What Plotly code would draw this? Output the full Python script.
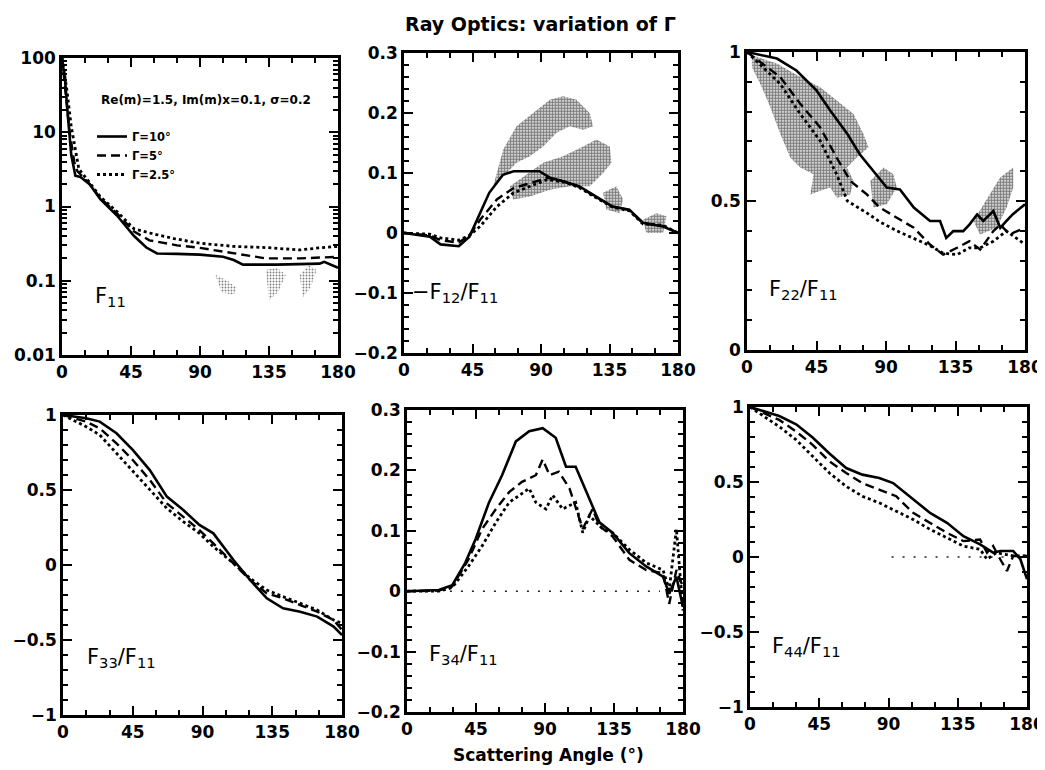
import plotly.graph_objects as go

# ---------------- data ----------------
# Panel 1: F11 (log scale)
f11_sol_x = [0, 2, 4, 6, 8.7, 12, 18, 25, 36, 47, 55, 62, 75, 90, 105, 112, 118, 140, 168, 171, 180]
f11_sol_y = [100, 50, 15, 5, 2.6, 2.5, 2.0, 1.26, 0.75, 0.40, 0.28, 0.233, 0.23, 0.225, 0.21, 0.19, 0.165, 0.165, 0.17, 0.18, 0.15]
f11_dsh_x = [0, 2, 5, 8, 10, 18, 25, 36, 47, 57, 75, 90, 112, 133, 155, 180]
f11_dsh_y = [100, 40, 10, 4, 3.0, 2.0, 1.3, 0.8, 0.46, 0.35, 0.30, 0.277, 0.237, 0.20, 0.20, 0.21]
f11_dot_x = [0, 3, 6, 9, 11, 18, 25, 36, 47, 57, 73, 90, 112, 133, 155, 170, 180]
f11_dot_y = [100, 40, 12, 5, 3.2, 2.1, 1.35, 0.85, 0.50, 0.44, 0.37, 0.32, 0.29, 0.28, 0.26, 0.28, 0.29]

# Panel 2: -F12/F11
f12_sol_x = [0, 17, 24, 36, 43, 50, 56, 65, 72, 89, 96, 105, 115, 126, 137, 148, 157, 170, 180]
f12_sol_y = [0, -0.006, -0.019, -0.022, -0.006, 0.033, 0.067, 0.097, 0.103, 0.103, 0.092, 0.086, 0.078, 0.061, 0.044, 0.039, 0.017, 0.011, 0.0]
f12_dsh_x = [0, 17, 24, 36, 43, 50, 61, 72, 83, 94, 105, 115, 126, 137, 148, 157, 170, 180]
f12_dsh_y = [0, -0.004, -0.012, -0.016, -0.004, 0.022, 0.056, 0.075, 0.083, 0.092, 0.086, 0.077, 0.060, 0.044, 0.038, 0.016, 0.012, 0.0]
f12_dot_x = [0, 17, 24, 36, 43, 50, 61, 72, 83, 94, 105, 115, 126, 137, 148, 157, 170, 180]
f12_dot_y = [0, -0.002, -0.008, -0.012, -0.004, 0.011, 0.044, 0.067, 0.078, 0.089, 0.085, 0.076, 0.059, 0.043, 0.037, 0.015, 0.013, 0.0]

# Panel 3: F22/F11
f22_sol_x = [0, 19.4, 32, 45, 54, 65, 73, 82, 90.5, 99, 108, 118.5, 125, 129, 133.6, 140, 144, 149, 153, 159.5, 164, 168, 172, 180]
f22_sol_y = [1, 0.978, 0.938, 0.871, 0.803, 0.725, 0.657, 0.601, 0.545, 0.539, 0.478, 0.433, 0.433, 0.376, 0.399, 0.399, 0.421, 0.455, 0.433, 0.466, 0.41, 0.433, 0.455, 0.489]
f22_dsh_x = [0, 21.5, 34.5, 47.4, 58, 67, 77.6, 86, 97, 108, 118.5, 127, 136, 144, 151, 159.5, 164, 170, 180]
f22_dsh_y = [1, 0.916, 0.826, 0.747, 0.646, 0.567, 0.522, 0.478, 0.444, 0.41, 0.354, 0.32, 0.343, 0.365, 0.337, 0.399, 0.421, 0.388, 0.41]
f22_dot_x = [0, 21.5, 34.5, 47.4, 58, 65, 77.6, 86, 97, 108, 118.5, 127, 136, 144, 151, 159.5, 168, 180]
f22_dot_y = [1, 0.893, 0.792, 0.702, 0.59, 0.50, 0.46, 0.43, 0.400, 0.375, 0.350, 0.325, 0.32, 0.343, 0.343, 0.365, 0.399, 0.354]

# Panel 4: F33/F11
f33_x = [0, 15, 23.7, 34.5, 45, 56, 67, 77.6, 88, 97, 110, 120.7, 131.5, 142, 153, 164, 174.6, 180]
f33_sol_y = [1, 0.978, 0.956, 0.878, 0.767, 0.633, 0.456, 0.367, 0.267, 0.211, 0.033, -0.1, -0.222, -0.289, -0.311, -0.344, -0.411, -0.467]
f33_dsh_y = [1, 0.956, 0.911, 0.811, 0.70, 0.567, 0.411, 0.322, 0.233, 0.144, 0.011, -0.1, -0.189, -0.222, -0.267, -0.311, -0.367, -0.433]
f33_dot_y = [1, 0.922, 0.867, 0.744, 0.622, 0.50, 0.378, 0.289, 0.211, 0.122, 0.011, -0.089, -0.167, -0.211, -0.256, -0.30, -0.367, -0.389]

# Panel 5: F34/F11
f34_sol_x = [0, 20.7, 29.5, 38, 44.7, 53.5, 62, 71, 79.7, 88.5, 97, 103.7, 110, 121, 125.5, 134, 145, 156, 167, 171, 175.7, 180]
f34_sol_y = [0, 0.002, 0.01, 0.047, 0.086, 0.147, 0.192, 0.248, 0.265, 0.27, 0.254, 0.206, 0.206, 0.142, 0.114, 0.097, 0.063, 0.041, 0.024, -0.004, 0.024, -0.026]
f34_dsh_x = [0, 20.7, 29.5, 40, 49, 58, 66.6, 75, 84, 88.5, 93, 99, 106, 114.6, 121, 125.5, 134, 145, 156, 167, 171, 175.7, 180]
f34_dsh_y = [0, 0.001, 0.008, 0.052, 0.103, 0.136, 0.164, 0.181, 0.192, 0.218, 0.192, 0.198, 0.17, 0.103, 0.136, 0.108, 0.091, 0.052, 0.035, 0.03, -0.021, 0.035, 0.007]
f34_dot_x = [0, 20.7, 29.5, 40, 49, 58, 66.6, 79.7, 84, 90.6, 95, 101.5, 110, 114.6, 119, 127.7, 134, 145, 156, 167, 171, 175.7, 178, 180]
f34_dot_y = [0, 0.0, 0.006, 0.041, 0.075, 0.114, 0.147, 0.17, 0.147, 0.136, 0.159, 0.136, 0.147, 0.097, 0.125, 0.103, 0.097, 0.069, 0.047, 0.035, 0.002, 0.103, 0.03, -0.032]
f34_zero_x = [28, 165]
f34_zero_y = [0, 0]

# Panel 6: F44/F11
f44_sol_x = [0, 19, 30, 40.7, 51.6, 62.5, 73, 84, 93, 106, 117, 128, 138.7, 149.5, 158, 162.6, 171, 175.7, 180]
f44_sol_y = [1, 0.94, 0.885, 0.796, 0.69, 0.593, 0.549, 0.527, 0.493, 0.383, 0.294, 0.228, 0.139, 0.084, 0.029, 0.04, 0.04, -0.015, -0.148]
f44_dsh_x = [0, 19, 30, 40.7, 51.6, 62.5, 73, 84, 95, 106, 117, 128, 138.7, 149.5, 154, 158, 162.6, 167, 171, 180]
f44_dsh_y = [1, 0.914, 0.836, 0.748, 0.637, 0.56, 0.493, 0.449, 0.405, 0.294, 0.228, 0.161, 0.106, 0.117, 0.029, 0.073, -0.015, -0.093, 0.007, 0.007]
f44_dot_x = [0, 19, 30, 40.7, 51.6, 62.5, 73, 84, 95, 106, 117, 128, 138.7, 149.5, 154, 160, 171, 180]
f44_dot_y = [1, 0.869, 0.781, 0.67, 0.56, 0.471, 0.405, 0.361, 0.305, 0.25, 0.184, 0.128, 0.073, 0.051, -0.015, 0.029, 0.007, 0.007]
f44_zero_x = [92, 170]
f44_zero_y = [0, 0]

# stippled (speckle) clouds, outlines
blob12a_x = [58.6, 65.2, 73.9, 84.9, 95.8, 104.5, 113.3, 122.0, 124.2, 117.7, 108.9, 100.2, 91.4, 82.7, 73.9, 65.2]
blob12a_y = [0.078, 0.139, 0.178, 0.2, 0.222, 0.228, 0.222, 0.2, 0.178, 0.172, 0.178, 0.167, 0.144, 0.128, 0.117, 0.094]
blob12b_x = [69.6, 78.3, 91.4, 104.5, 117.7, 126.4, 135.2, 136.3, 130.8, 122.0, 108.9, 95.8, 82.7, 71.7]
blob12b_y = [0.078, 0.094, 0.117, 0.128, 0.144, 0.156, 0.144, 0.117, 0.1, 0.078, 0.078, 0.072, 0.061, 0.056]
blob12c_x = [130.8, 139.5, 143.9, 141.7, 132.9]
blob12c_y = [0.067, 0.078, 0.056, 0.033, 0.039]
blob12d_x = [157, 165.8, 172.4, 170.2, 159.2]
blob12d_y = [0.022, 0.033, 0.028, 0.0, 0.0]

blob22a_x = [3.2, 19.4, 34.5, 47.4, 58.2, 69.0, 75.4, 78.7, 71.1, 64.7, 69.0, 66.8, 58.2, 53.9, 47.4, 41.0, 43.1, 34.5, 28.0, 21.6, 15.1, 8.6, 3.2]
blob22a_y = [0.989, 0.961, 0.916, 0.882, 0.837, 0.792, 0.725, 0.680, 0.646, 0.612, 0.567, 0.522, 0.511, 0.545, 0.534, 0.522, 0.590, 0.612, 0.646, 0.725, 0.815, 0.893, 0.949]
blob22b_x = [79.8, 88.4, 94.8, 97, 90.5, 81.9]
blob22b_y = [0.567, 0.612, 0.590, 0.545, 0.489, 0.478]
blob22c_x = [146.6, 157.4, 163.8, 172.4, 172.4, 168.1, 161.7, 150.9]
blob22c_y = [0.433, 0.522, 0.578, 0.612, 0.545, 0.478, 0.410, 0.388]

blob11a_x = [100, 108, 114, 112, 104]
blob11a_y = [0.12, 0.10, 0.08, 0.065, 0.07]
blob11b_x = [133, 140, 146, 141, 135]
blob11b_y = [0.14, 0.15, 0.12, 0.07, 0.055]
blob11c_x = [155, 161, 166, 162, 157]
blob11c_y = [0.12, 0.16, 0.14, 0.08, 0.06]

x_ticks = [0, 45, 90, 135, 180]
x_ticklabels = ["0", "45", "90", "135", "180"]

legend_names = ["Γ=10°", "Γ=5°", "Γ=2.5°"]

# ---------------- figure ----------------
fig = go.Figure()
FONT = "DejaVu Sans, Verdana, sans-serif"

OFF = 8
W, H = 1045 - OFF, 770 - OFF

def fx(px):
    return (px - OFF) / W

def fy(py):
    return 1 - (py - OFF) / H

styles = [dict(color="black", width=2.6, dash="solid"),
          dict(color="black", width=2.4, dash="9px,5px"),
          dict(color="black", width=2.8, dash="dot")]

def add_lines(xs, ys, ax, show=False):
    for i, (xx, yy) in enumerate(zip(xs, ys)):
        fig.add_trace(go.Scatter(x=xx, y=yy, mode="lines", line=styles[i],
                                 xaxis="x" + ax, yaxis="y" + ax,
                                 name=legend_names[i], showlegend=show,
                                 hoverinfo="skip"))

def add_blob(bx, by, ax, solidity=0.7):
    fig.add_trace(go.Scatter(x=bx, y=by, mode="lines", fill="toself",
                             line=dict(width=0, color="rgba(0,0,0,0)"),
                             fillcolor="rgba(0,0,0,0)",
                             fillpattern=dict(shape=".", fgcolor="#000000",
                                              bgcolor="rgba(255,255,255,0)",
                                              size=3, solidity=solidity),
                             xaxis="x" + ax, yaxis="y" + ax,
                             showlegend=False, hoverinfo="skip"))

def add_zero(zx, zy, ax):
    fig.add_trace(go.Scatter(x=zx, y=zy, mode="lines",
                             line=dict(color="#222222", width=1.5, dash="2px,9px"),
                             xaxis="x" + ax, yaxis="y" + ax,
                             showlegend=False, hoverinfo="skip"))

# blobs first (under lines)
for bx, by in [(blob11a_x, blob11a_y), (blob11b_x, blob11b_y), (blob11c_x, blob11c_y)]:
    add_blob(bx, by, "", 0.3)
for bx, by in [(blob12a_x, blob12a_y), (blob12b_x, blob12b_y), (blob12c_x, blob12c_y), (blob12d_x, blob12d_y)]:
    add_blob(bx, by, "2")
for bx, by in [(blob22a_x, blob22a_y), (blob22b_x, blob22b_y), (blob22c_x, blob22c_y)]:
    add_blob(bx, by, "3")

add_lines([f11_sol_x, f11_dsh_x, f11_dot_x], [f11_sol_y, f11_dsh_y, f11_dot_y], "", show=True)
add_lines([f12_sol_x, f12_dsh_x, f12_dot_x], [f12_sol_y, f12_dsh_y, f12_dot_y], "2")
add_lines([f22_sol_x, f22_dsh_x, f22_dot_x], [f22_sol_y, f22_dsh_y, f22_dot_y], "3")
add_lines([f33_x, f33_x, f33_x], [f33_sol_y, f33_dsh_y, f33_dot_y], "4")
add_zero(f34_zero_x, f34_zero_y, "5")
add_lines([f34_sol_x, f34_dsh_x, f34_dot_x], [f34_sol_y, f34_dsh_y, f34_dot_y], "5")
add_zero(f44_zero_x, f44_zero_y, "6")
add_lines([f44_sol_x, f44_dsh_x, f44_dot_x], [f44_sol_y, f44_dsh_y, f44_dot_y], "6")

# panel frames (reference pixels: left, right, top, bottom)
frames = [(62, 338, 58, 355), (404, 678, 53, 353), (747, 1025, 52, 350),
          (63, 342, 415, 715), (407, 683, 410, 712), (750, 1027, 407, 707)]

tickfont = dict(family=FONT, size=17, color="black", weight="bold")
common = dict(showline=True, linewidth=2.5, linecolor="black", mirror="ticks",
              ticks="inside", ticklen=9, tickwidth=2, tickcolor="black",
              showgrid=False, zeroline=False, tickfont=tickfont,
              automargin=False)

def xax(fr, anchor):
    return dict(domain=[fx(fr[0]), fx(fr[1])], anchor=anchor, range=[0, 180],
                tickvals=x_ticks, ticktext=x_ticklabels,
                minor=dict(dtick=15, tick0=0, ticks="inside", ticklen=5,
                           tickwidth=1.5, tickcolor="black", showgrid=False),
                **common)

def yax(fr, anchor, rng, tv, tt, mdt):
    return dict(domain=[fy(fr[3]), fy(fr[2])], anchor=anchor, range=rng,
                tickvals=tv, ticktext=tt,
                minor=dict(dtick=mdt, tick0=0, ticks="inside", ticklen=5,
                           tickwidth=1.5, tickcolor="black", showgrid=False),
                **common)

lay = {}
suffix = ["", "2", "3", "4", "5", "6"]
for i, s in enumerate(suffix):
    lay["xaxis" + s] = xax(frames[i], "y" + s)

lay["yaxis"] = dict(domain=[fy(frames[0][3]), fy(frames[0][2])], anchor="x",
                    type="log", range=[-2, 2],
                    tickvals=[0.01, 0.1, 1, 10, 100],
                    ticktext=["0.01", "0.1", "1", "10", "100"],
                    minor=dict(dtick="D1", ticks="inside", ticklen=5, tickwidth=1.5,
                               tickcolor="black", showgrid=False),
                    **common)
lay["yaxis2"] = yax(frames[1], "x2", [-0.2, 0.3], [-0.2, -0.1, 0, 0.1, 0.2, 0.3],
                    ["−0.2", "−0.1", "0", "0.1", "0.2", "0.3"], 0.02)
lay["yaxis3"] = yax(frames[2], "x3", [0, 1], [0, 0.5, 1], ["0", "0.5", "1"], 0.1)
lay["yaxis4"] = yax(frames[3], "x4", [-1, 1], [-1, -0.5, 0, 0.5, 1],
                    ["−1", "−0.5", "0", "0.5", "1"], 0.1)
lay["yaxis5"] = yax(frames[4], "x5", [-0.2, 0.3], [-0.2, -0.1, 0, 0.1, 0.2, 0.3],
                    ["−0.2", "−0.1", "0", "0.1", "0.2", "0.3"], 0.02)
lay["yaxis6"] = yax(frames[5], "x6", [-1, 1], [-1, -0.5, 0, 0.5, 1],
                    ["−1", "−0.5", "0", "0.5", "1"], 0.1)

fig.update_layout(**lay)

lab_font = dict(family=FONT, size=21, color="black")
ann = [
    dict(text="F<sub>11</sub>", xref="x", yref="y", x=20, y=-1.22, xanchor="left"),
    dict(text="−F<sub>12</sub>/F<sub>11</sub>", xref="x2", yref="y2", x=4, y=-0.1, xanchor="left"),
    dict(text="F<sub>22</sub>/F<sub>11</sub>", xref="x3", yref="y3", x=13, y=0.2, xanchor="left"),
    dict(text="F<sub>33</sub>/F<sub>11</sub>", xref="x4", yref="y4", x=14, y=-0.62, xanchor="left"),
    dict(text="F<sub>34</sub>/F<sub>11</sub>", xref="x5", yref="y5", x=13, y=-0.105, xanchor="left"),
    dict(text="F<sub>44</sub>/F<sub>11</sub>", xref="x6", yref="y6", x=13, y=-0.6, xanchor="left"),
]
for a in ann:
    a.update(showarrow=False, font=lab_font)

ann.append(dict(text="Re(m)=1.5, Im(m)x=0.1, σ=0.2", xref="paper", yref="paper",
                x=fx(99), y=fy(100), xanchor="left", yanchor="middle",
                showarrow=False,
                font=dict(family=FONT, size=12, color="black", weight="bold")))
ann.append(dict(text="Ray Optics: variation of Γ", xref="paper", yref="paper",
                x=fx(540), y=fy(24), xanchor="center", yanchor="middle",
                showarrow=False,
                font=dict(family=FONT, size=19, color="black", weight="bold")))
ann.append(dict(text="Scattering Angle (°)", xref="paper", yref="paper",
                x=fx(548), y=fy(755), xanchor="center", yanchor="middle",
                showarrow=False,
                font=dict(family=FONT, size=17, color="black", weight="bold")))

fig.update_layout(
    width=W, height=H,
    margin=dict(l=0, r=0, t=0, b=0, autoexpand=False),
    paper_bgcolor="white", plot_bgcolor="white",
    annotations=ann,
    showlegend=True,
    legend=dict(x=fx(92), y=fy(122), xanchor="left", yanchor="top",
                bgcolor="rgba(0,0,0,0)", borderwidth=0,
                font=dict(family=FONT, size=11.5, color="black", weight="bold"),
                tracegroupgap=0, itemwidth=30),
)

fig.write_html("out.html")
